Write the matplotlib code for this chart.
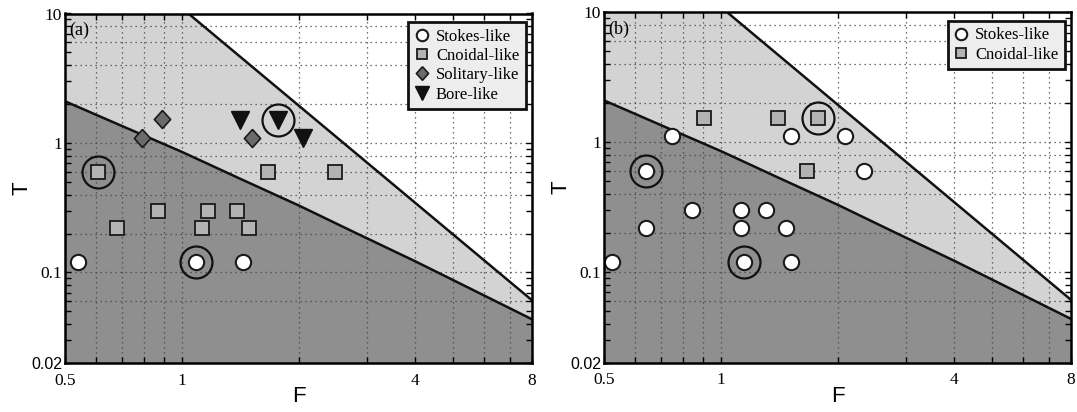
import matplotlib
matplotlib.use('Agg')
import matplotlib.pyplot as plt
from matplotlib.ticker import FixedLocator, FixedFormatter, NullFormatter
from matplotlib.lines import Line2D

SERIF = 'Liberation Serif'
SANS = 'Liberation Sans'

# regime boundaries (F, T)
upper_F = [0.5, 1.04, 8.0]
upper_T = [10.0, 10.0, 0.061]
lower_F = [0.5, 0.7, 1.0, 1.4, 2.0, 2.8, 4.0, 5.6, 8.0]
lower_T = [2.1, 1.356, 0.855, 0.537, 0.33, 0.203, 0.122, 0.074, 0.0435]

# panel (a)
a_stokes_F = [0.54, 1.09, 1.44]
a_stokes_T = [0.12, 0.12, 0.12]
a_cnoidal_F = [0.61, 0.68, 0.87, 1.13, 1.17, 1.39, 1.49, 1.67, 2.48]
a_cnoidal_T = [0.6, 0.22, 0.3, 0.22, 0.3, 0.3, 0.22, 0.6, 0.6]
a_solitary_F = [0.79, 0.89, 1.52]
a_solitary_T = [1.1, 1.53, 1.1]
a_bore_F = [1.41, 1.77, 2.05]
a_bore_T = [1.5, 1.5, 1.1]
a_ring_F = [0.61, 1.09, 1.77]
a_ring_T = [0.6, 0.12, 1.5]

# panel (b)
b_stokes_F = [0.75, 0.64, 0.845, 1.13, 1.31, 0.64, 1.13, 1.47, 0.524, 1.15, 1.52, 1.52, 2.09, 2.34]
b_stokes_T = [1.12, 0.6, 0.3, 0.3, 0.3, 0.22, 0.22, 0.22, 0.12, 0.12, 0.12, 1.12, 1.12, 0.6]
b_cnoidal_F = [0.907, 1.405, 1.78, 1.67]
b_cnoidal_T = [1.53, 1.53, 1.53, 0.6]
b_ring_F = [0.64, 1.15, 1.78]
b_ring_T = [0.6, 0.12, 1.53]

x_major = [0.5, 1, 4, 8]
x_minor = [0.6, 0.7, 0.8, 0.9, 2, 3, 5, 6, 7]
y_major = [0.02, 0.1, 1, 10]
y_minor = [0.03, 0.04, 0.05, 0.06, 0.07, 0.08, 0.09,
           0.2, 0.3, 0.4, 0.5, 0.6, 0.7, 0.8, 0.9,
           2, 3, 4, 5, 6, 7, 8, 9]
x_grid = [0.6, 0.7, 0.8, 0.9, 1, 2, 3, 4, 5, 6, 7]
y_grid = [0.06, 0.1, 0.2, 0.4, 0.6, 0.8, 1, 2, 4, 6, 8]

DARK = '#8f8f8f'
LIGHT = '#d3d3d3'
EDGE = '#1a1a1a'

# slightly tall diamond, like the original
TALL_DIAMOND = [(0, 1), (0.9, 0), (0, -1), (-0.9, 0), (0, 1)]

STYLES = {
    'Stokes-like': dict(marker='o', ms=11, mfc='white', mec=EDGE, mew=1.5),
    'Cnoidal-like': dict(marker='s', ms=10, mfc='#b3b3b3', mec=EDGE, mew=1.3),
    'Solitary-like': dict(marker=TALL_DIAMOND, ms=13, mfc='#6b6b6b', mec=EDGE, mew=1.2),
    'Bore-like': dict(marker='v', ms=13.5, mfc='#111111', mec='#111111', mew=1.0),
}


def setup_axes(ax, tag):
    ax.set_xscale('log')
    ax.set_yscale('log')
    ax.set_xlim(0.5, 8)
    ax.set_ylim(0.02, 10)

    ax.fill_between(upper_F, 0.02, upper_T, color=LIGHT, lw=0, zorder=0)
    ax.fill_between(lower_F, 0.02, lower_T, color=DARK, lw=0, zorder=0.5)
    for g in x_grid:
        ax.axvline(g, color='#444444', ls=(0, (1, 3)), lw=0.9, zorder=1)
    for g in y_grid:
        ax.axhline(g, color='#444444', ls=(0, (1, 3)), lw=0.9, zorder=1)
    ax.plot(upper_F[1:], upper_T[1:], color='#111111', lw=1.8, zorder=2)
    ax.plot(lower_F, lower_T, color='#111111', lw=1.8, zorder=2)

    ax.xaxis.set_major_locator(FixedLocator(x_major))
    ax.xaxis.set_minor_locator(FixedLocator(x_minor))
    ax.xaxis.set_major_formatter(FixedFormatter(['0.5', '1', '4', '8']))
    ax.xaxis.set_minor_formatter(NullFormatter())
    ax.yaxis.set_major_locator(FixedLocator(y_major))
    ax.yaxis.set_minor_locator(FixedLocator(y_minor))
    ax.yaxis.set_major_formatter(FixedFormatter(['0.02', '0.1', '1', '10']))
    ax.yaxis.set_minor_formatter(NullFormatter())
    ax.tick_params(which='both', direction='in', top=True, right=True, width=1.0, length=4)
    ax.tick_params(axis='x', which='major', pad=7)
    ax.tick_params(axis='y', which='major', pad=2)
    ax.tick_params(which='major', labelsize=12.5, labelfontfamily=SERIF)
    ax.get_yticklabels()[0].set_fontfamily(SANS)
    ax.get_yticklabels()[0].set_fontsize(11.5)

    for sp in ax.spines.values():
        sp.set_linewidth(1.8)
        sp.set_zorder(6)

    ax.set_xlabel('F', fontfamily=SANS, fontsize=16, labelpad=-2)
    ax.set_ylabel('T', fontfamily=SANS, fontsize=16, labelpad=-1)
    ax.text(0.01, 0.977, tag, transform=ax.transAxes, ha='left', va='top',
            fontfamily=SERIF, fontsize=13, zorder=7)


def add_legend(ax, names):
    handles = [Line2D([], [], ls='none', **{**STYLES[n], 'ms': STYLES[n]['ms'] * 0.75})
               for n in names]
    leg = ax.legend(handles, names, loc='upper right', bbox_to_anchor=(0.987, 0.976),
                    prop={'family': SERIF, 'size': 12}, frameon=True, fancybox=False,
                    framealpha=1, facecolor='#ededed', edgecolor='#111111',
                    handlelength=0.8, handletextpad=0.45, borderpad=0.4,
                    labelspacing=0.2, borderaxespad=0)
    leg.get_frame().set_linewidth(2.0)
    leg.set_zorder(8)


def scatter(ax, F, T, name):
    ax.plot(F, T, ls='none', zorder=3, **STYLES[name])


def rings(ax, F, T):
    ax.plot(F, T, ls='none', marker='o', ms=23, mfc='none', mec='#111111', mew=1.6, zorder=4)


fig = plt.figure(figsize=(10.77, 4.12), dpi=100)
ax_a = fig.add_axes([65 / 1077, 49 / 412, 467 / 1077, 349.5 / 412])
ax_b = fig.add_axes([604 / 1077, 49.3 / 412, 467 / 1077, 350.3 / 412])

setup_axes(ax_a, '(a)')
scatter(ax_a, a_stokes_F, a_stokes_T, 'Stokes-like')
scatter(ax_a, a_cnoidal_F, a_cnoidal_T, 'Cnoidal-like')
scatter(ax_a, a_solitary_F, a_solitary_T, 'Solitary-like')
scatter(ax_a, a_bore_F, a_bore_T, 'Bore-like')
rings(ax_a, a_ring_F, a_ring_T)
add_legend(ax_a, ['Stokes-like', 'Cnoidal-like', 'Solitary-like', 'Bore-like'])

setup_axes(ax_b, '(b)')
scatter(ax_b, b_stokes_F, b_stokes_T, 'Stokes-like')
scatter(ax_b, b_cnoidal_F, b_cnoidal_T, 'Cnoidal-like')
rings(ax_b, b_ring_F, b_ring_T)
add_legend(ax_b, ['Stokes-like', 'Cnoidal-like'])

fig.savefig('out.png', dpi=100)
